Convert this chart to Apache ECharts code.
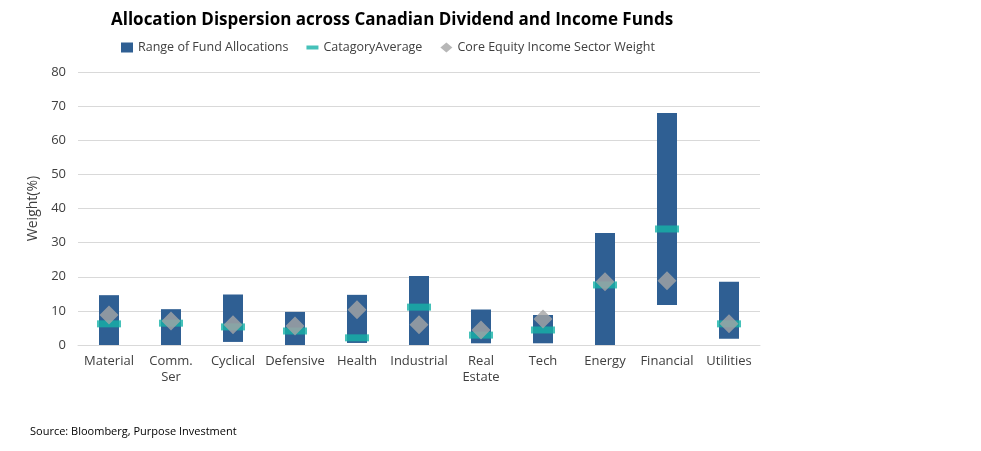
<!DOCTYPE html>
<html><head><meta charset="utf-8">
<script src="https://cdn.jsdelivr.net/npm/echarts@6/dist/echarts.min.js"></script>
<style>html,body{margin:0;background:#fff}#c{width:981px;height:451px}</style>
</head><body><div id="c"></div>
<script>
const categories = ['Material','Comm.\nSer','Cyclical','Defensive','Health','Industrial','Real\nEstate','Tech','Energy','Financial','Utilities'];
const rangeLow = [0,0,0.9,0,0.6,0,0.5,0.5,0,11.7,1.8];
const rangeHigh = [14.6,10.5,14.8,9.7,14.7,20.2,10.4,8.8,32.8,68,18.5];
const categoryAverage = [6.2,6.4,5.3,4.1,2.1,11.1,2.9,4.4,17.6,34,6.2];
const coreEquityIncome = [8.8,7,5.9,5.6,10.3,5.9,4.4,7.6,18.5,18.8,6.2];
const yTicks = [0,10,20,30,40,50,60,70,80];

const font = 'Open Sans';
const chart = echarts.init(document.getElementById('c'));
chart.setOption({
  animation:false,
  textStyle:{fontFamily:font},
  title:{text:'Allocation Dispersion across Canadian Dividend and Income Funds',left:106,top:7,
    textStyle:{fontSize:17,fontWeight:'bold',color:'#000',fontFamily:'Open Sans'}},
  legend:{top:36,left:116,itemGap:18,textStyle:{fontSize:12.5,color:'#404040'},itemWidth:12,itemHeight:10,
    data:[{name:'Range of Fund Allocations',icon:'rect'},{name:'CatagoryAverage',icon:'path://M0,3H12V7H0Z'},{name:'Core Equity Income Sector Weight',icon:'diamond'}]},
  grid:{left:78,right:221,top:72,bottom:106},
  xAxis:{type:'category',data:categories,axisTick:{show:false},axisLine:{lineStyle:{color:'#d9d9d9'}},
    axisLabel:{color:'#404040',fontSize:13,interval:0,lineHeight:16}},
  yAxis:{type:'value',min:0,max:80,interval:10,name:'Weight(%)',nameLocation:'middle',nameGap:36,
    nameTextStyle:{fontSize:14,color:'#404040'},
    axisLabel:{color:'#404040',fontSize:13,margin:12,formatter:v=>yTicks.includes(v)?v:''},
    splitLine:{lineStyle:{color:'#d9d9d9'}}},
  series:[
    {type:'bar',stack:'r',data:rangeLow,itemStyle:{color:'transparent'},barWidth:20,silent:true,legendHoverLink:false},
    {name:'Range of Fund Allocations',type:'bar',stack:'r',data:rangeHigh.map((h,i)=>+(h-rangeLow[i]).toFixed(2)),itemStyle:{color:'#2F5F93'},barWidth:20},
    {name:'CatagoryAverage',type:'scatter',data:categoryAverage,symbol:'rect',symbolSize:[24,7],itemStyle:{color:'#17B1A7'},z:3},
    {name:'Core Equity Income Sector Weight',type:'scatter',data:coreEquityIncome,symbol:'diamond',symbolSize:19,itemStyle:{color:'#A5A5A5'},z:4}
  ],
  graphic:[{type:'text',left:30,top:426,style:{text:'Source: Bloomberg, Purpose Investment',fontSize:11,fill:'#000',fontFamily:'Open Sans'}}]
});
</script></body></html>
